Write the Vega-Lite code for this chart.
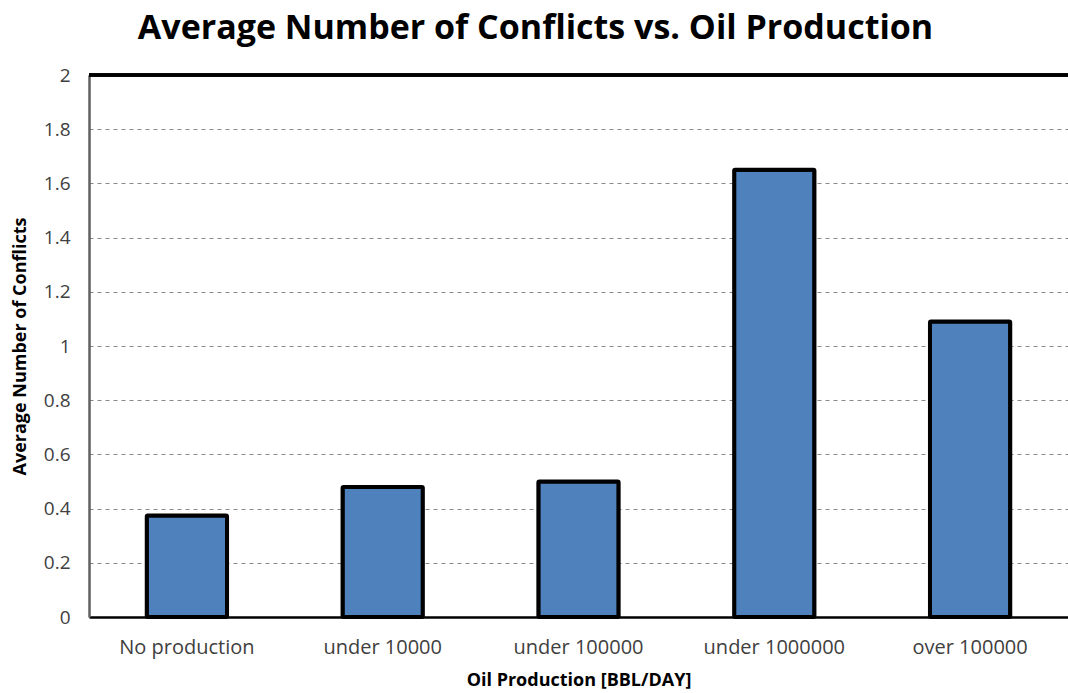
{
  "$schema": "https://vega.github.io/schema/vega-lite/v6.json",
  "autosize": {"type": "none"},
  "width": 979,
  "height": 542,
  "padding": {"left": 89, "top": 75, "right": 0, "bottom": 76},
  "background": "white",
  "title": {
    "text": "Average Number of Conflicts vs. Oil Production",
    "font": "Open Sans",
    "fontSize": 34,
    "fontWeight": "bold",
    "color": "#000000",
    "anchor": "middle",
    "offset": 20,
    "dx": -43
  },
  "config": {"view": {"stroke": null}},
  "data": {"values": [
    {"category": "No production", "value": 0.375},
    {"category": "under 10000", "value": 0.48},
    {"category": "under 100000", "value": 0.5},
    {"category": "under 1000000", "value": 1.65},
    {"category": "over 100000", "value": 1.09}
  ]},
  "layer": [
    {
      "mark": {"type": "bar", "fill": "#4F81BD", "stroke": "#000000", "strokeWidth": 4, "cornerRadius": 1},
      "encoding": {
        "x": {
          "field": "category", "type": "nominal", "sort": null,
          "scale": {"paddingInner": 0.59, "paddingOuter": 0.295},
          "axis": {
            "title": "Oil Production [BBL/DAY]",
            "titleFont": "Open Sans", "titleFontSize": 18, "titleFontWeight": "bold", "titleColor": "#000000",
            "titlePadding": 14,
            "labelFont": "Open Sans", "labelFontSize": 20, "labelColor": "#404040", "labelAngle": 0, "labelPadding": 20,
            "ticks": false,
            "domainColor": "#000000", "domainWidth": 2.5
          }
        },
        "y": {
          "field": "value", "type": "quantitative",
          "scale": {"domain": [0, 2]},
          "axis": {
            "title": "Average Number of Conflicts",
            "titleFont": "Open Sans", "titleFontSize": 18, "titleFontWeight": "bold", "titleColor": "#000000",
            "titlePadding": 14,
            "labelFont": "Open Sans", "labelFontSize": 19, "labelColor": "#404040", "labelPadding": 19,
            "format": "~g",
            "values": [0, 0.2, 0.4, 0.6, 0.8, 1, 1.2, 1.4, 1.6, 1.8, 2],
            "ticks": false,
            "domainColor": "#606060", "domainWidth": 2.5,
            "grid": true, "gridColor": "#888888", "gridDash": [4, 4], "gridWidth": 1
          }
        }
      }
    },
    {
      "mark": {"type": "rule", "stroke": "#000000", "strokeWidth": 3},
      "encoding": {"y": {"datum": 2, "type": "quantitative"}}
    }
  ]
}
